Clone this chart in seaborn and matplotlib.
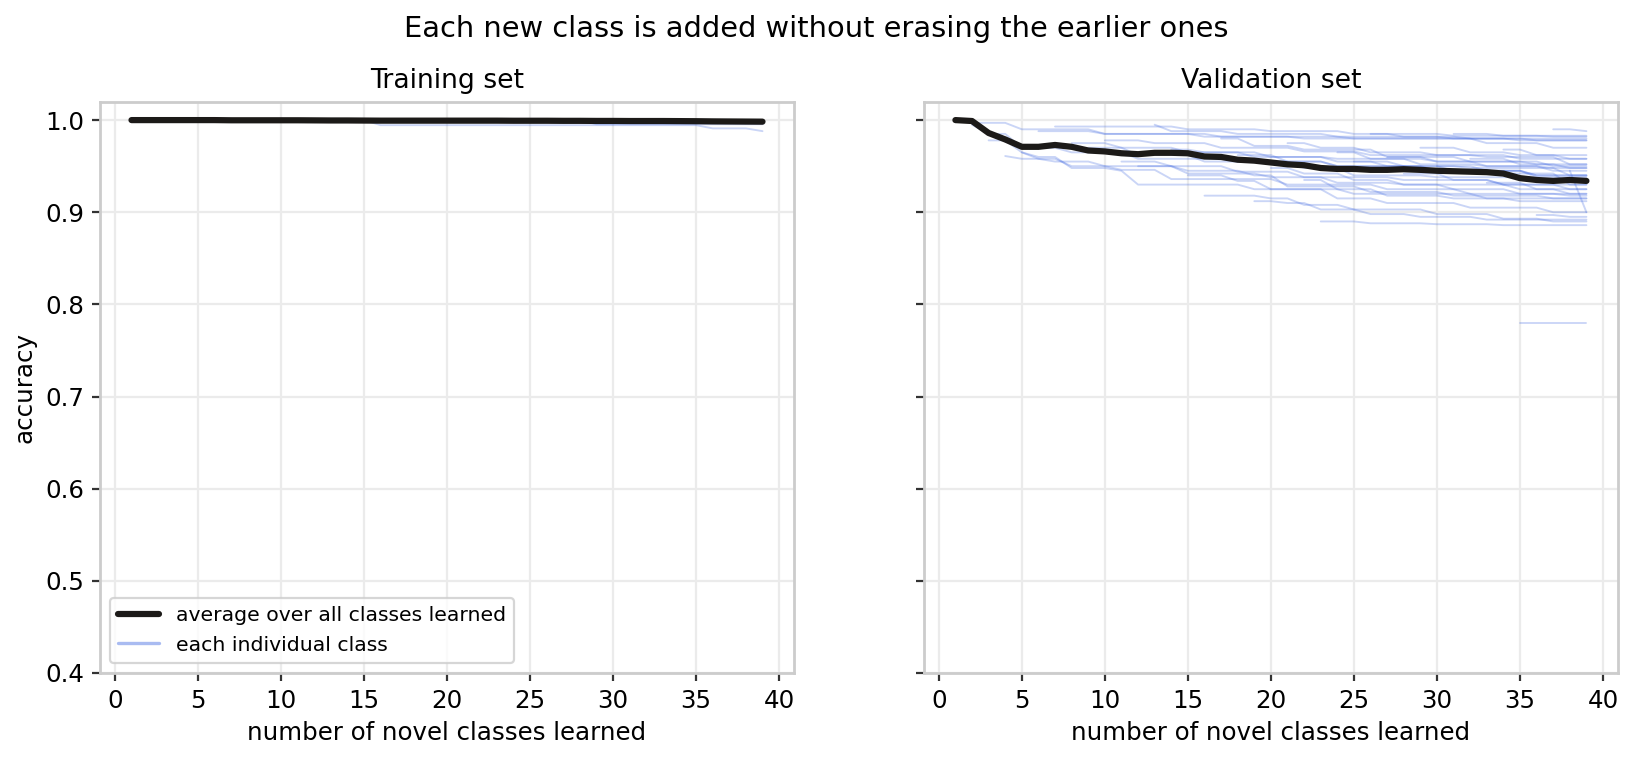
import matplotlib
matplotlib.use("Agg")
import matplotlib.pyplot as plt
import seaborn as sns
import pandas as pd
import numpy as np
from matplotlib.lines import Line2D

# number of novel classes learned so far
n_learned = list(range(1, 40))

# average accuracy over all classes learned, per step
train_avg = [1.0, 1.0, 1.0, 1.0, 1.0, 1.0, 0.9998, 0.9998, 0.9998, 0.9998,
             0.9998, 0.9997, 0.9996, 0.9996, 0.9995, 0.9994, 0.9994, 0.9994, 0.9994, 0.9994,
             0.9994, 0.9994, 0.9994, 0.9993, 0.9993, 0.9993, 0.9992, 0.9992, 0.9991, 0.9991,
             0.9990, 0.9990, 0.9990, 0.9989, 0.9988, 0.9986, 0.9985, 0.9984, 0.9983]
val_avg = [1.0, 0.999, 0.986, 0.979, 0.971, 0.971, 0.973, 0.971, 0.967, 0.966,
           0.964, 0.963, 0.9645, 0.9645, 0.964, 0.9605, 0.960, 0.957, 0.956, 0.954,
           0.952, 0.951, 0.948, 0.947, 0.947, 0.946, 0.946, 0.9467, 0.946, 0.945,
           0.9445, 0.944, 0.9435, 0.942, 0.937, 0.935, 0.934, 0.935, 0.934]

# per-class accuracy: (step where this level begins, accuracy)
train_levels = {
    1: [(1, 1.0)], 2: [(2, 1.0)], 3: [(3, 1.0), (16, 0.9945), (36, 0.991), (39, 0.988)],
    4: [(4, 1.0)], 5: [(5, 1.0)], 6: [(6, 1.0)], 7: [(7, 1.0)], 8: [(8, 1.0)],
    9: [(9, 1.0)], 10: [(10, 1.0)], 11: [(11, 1.0), (29, 0.9955)], 12: [(12, 1.0)],
    13: [(13, 1.0)], 14: [(14, 1.0)], 15: [(15, 1.0)], 16: [(16, 1.0)], 17: [(17, 1.0)],
    18: [(18, 1.0)], 19: [(19, 1.0)], 20: [(20, 1.0)], 21: [(21, 1.0)], 22: [(22, 1.0)],
    23: [(23, 1.0)], 24: [(24, 1.0)], 25: [(25, 1.0)], 26: [(26, 1.0)], 27: [(27, 1.0)],
    28: [(28, 1.0)], 29: [(29, 1.0)], 30: [(30, 1.0)], 31: [(31, 1.0)], 32: [(32, 1.0)],
    33: [(33, 1.0)], 34: [(34, 1.0)], 35: [(35, 1.0)], 36: [(36, 1.0)], 37: [(37, 1.0)],
    38: [(38, 1.0)], 39: [(39, 1.0)],
}
val_levels = {
    1: [(1, 1.0), (2, 0.997), (5, 0.990), (10, 0.985), (17, 0.982), (25, 0.980), (33, 0.975), (37, 0.970)],
    2: [(2, 0.995), (3, 0.985), (5, 0.970), (8, 0.965), (12, 0.958), (18, 0.955), (24, 0.950), (30, 0.945), (36, 0.940)],
    3: [(3, 0.978), (5, 0.965), (6, 0.960), (8, 0.948), (11, 0.945), (12, 0.930), (19, 0.925), (25, 0.920), (33, 0.915)],
    4: [(4, 0.961), (5, 0.958), (7, 0.955), (10, 0.950), (15, 0.942), (20, 0.938), (24, 0.932), (28, 0.930), (35, 0.925)],
    5: [(5, 0.965), (6, 0.958), (8, 0.950), (11, 0.946), (14, 0.936), (21, 0.930), (27, 0.925), (32, 0.920), (38, 0.918)],
    6: [(6, 0.988), (10, 0.985), (16, 0.982), (22, 0.980), (35, 0.978)],
    7: [(7, 0.993), (15, 0.990), (20, 0.988), (25, 0.985), (31, 0.983)],
    8: [(8, 0.975), (11, 0.970), (15, 0.965), (19, 0.960), (24, 0.958), (30, 0.955), (37, 0.950)],
    9: [(9, 0.970), (12, 0.962), (16, 0.955), (22, 0.948), (25, 0.940), (30, 0.938), (36, 0.935)],
    10: [(10, 0.978), (13, 0.975), (17, 0.970), (22, 0.966), (26, 0.962), (33, 0.960), (38, 0.952)],
    11: [(11, 0.955), (14, 0.950), (18, 0.944), (22, 0.938), (28, 0.935), (34, 0.930)],
    12: [(12, 0.950), (15, 0.945), (19, 0.940), (21, 0.928), (26, 0.922), (31, 0.918), (37, 0.915)],
    13: [(13, 0.995), (14, 0.988), (18, 0.985), (24, 0.982), (31, 0.980)],
    14: [(14, 0.968), (16, 0.965), (20, 0.960), (24, 0.955), (27, 0.950), (32, 0.948), (38, 0.940)],
    15: [(15, 0.940), (18, 0.934), (20, 0.925), (24, 0.915), (27, 0.910), (32, 0.905), (37, 0.900)],
    16: [(16, 0.918), (20, 0.915), (22, 0.908), (25, 0.903), (30, 0.898), (34, 0.893), (37, 0.890)],
    17: [(17, 0.980), (19, 0.972), (22, 0.968), (27, 0.960), (32, 0.955), (36, 0.952)],
    18: [(18, 0.962), (21, 0.955), (24, 0.950), (29, 0.946), (34, 0.942), (38, 0.930)],
    19: [(19, 0.912), (21, 0.910), (23, 0.903), (26, 0.898), (29, 0.895), (33, 0.892)],
    20: [(20, 0.948), (22, 0.942), (25, 0.935), (28, 0.930), (31, 0.925), (35, 0.920)],
    21: [(21, 0.975), (23, 0.970), (26, 0.965), (30, 0.962), (35, 0.958)],
    22: [(22, 0.935), (24, 0.925), (27, 0.918), (31, 0.915), (35, 0.912)],
    23: [(23, 0.890), (26, 0.888), (30, 0.887), (34, 0.886)],
    24: [(24, 0.965), (26, 0.958), (29, 0.952), (33, 0.950), (37, 0.945)],
    25: [(25, 0.955), (28, 0.950), (31, 0.945), (36, 0.940)],
    26: [(26, 0.985), (28, 0.982), (32, 0.980), (36, 0.978)],
    27: [(27, 0.960), (30, 0.955), (33, 0.950), (37, 0.948)],
    28: [(28, 0.942), (31, 0.935), (34, 0.930), (38, 0.925)],
    29: [(29, 0.970), (32, 0.965), (35, 0.962)],
    30: [(30, 0.950), (33, 0.945), (36, 0.938)],
    31: [(31, 0.985), (34, 0.983), (37, 0.982)],
    32: [(32, 0.958), (35, 0.952), (38, 0.948)],
    33: [(33, 0.932), (36, 0.925), (38, 0.920)],
    34: [(34, 0.968), (36, 0.962), (38, 0.958)],
    35: [(35, 0.780)],
    36: [(36, 0.897), (38, 0.895)],
    37: [(37, 0.990), (39, 0.988)],
    38: [(38, 0.945), (39, 0.900)],
    39: [(39, 0.960)],
}


def to_long(levels):
    # one row per (class, step); each class keeps its accuracy until the next level
    rows = []
    for cls, lv in levels.items():
        for step in range(lv[0][0], n_learned[-1] + 1):
            acc = [a for s, a in lv if s <= step][-1]
            rows.append({'class': cls, 'step': step, 'accuracy': acc})
    return pd.DataFrame(rows)


train_df = to_long(train_levels)
val_df = to_long(val_levels)

sns.set_theme(context='notebook', style='whitegrid', rc={
    'xtick.bottom': True, 'ytick.left': True,
    'xtick.major.size': 3.5, 'ytick.major.size': 3.5,
    'xtick.major.width': 1.0, 'ytick.major.width': 1.0,
    'xtick.color': '.2', 'ytick.color': '.2',
    'xtick.labelcolor': 'black', 'ytick.labelcolor': 'black',
    'text.color': 'black', 'axes.labelcolor': 'black',
    'grid.color': '.92', 'axes.edgecolor': '.8',
})

fig, axes = plt.subplots(1, 2, figsize=(1633 / 160, 757 / 160), dpi=160, sharey=True)
plt.subplots_adjust(left=0.0612, right=0.9908, top=0.8657, bottom=0.111, wspace=0.187)

line_color = 'royalblue'
avg_color = '#1c1a18'

for ax, df, avg, title in [(axes[0], train_df, train_avg, 'Training set'),
                           (axes[1], val_df, val_avg, 'Validation set')]:
    sns.lineplot(data=df, x='step', y='accuracy', units='class', estimator=None,
                 color=line_color, alpha=0.28, lw=0.85, ax=ax, legend=False)
    sns.lineplot(x=n_learned, y=avg, color=avg_color, lw=2.8, ax=ax, legend=False)
    ax.set_title(title, fontsize=12)
    ax.set_xlabel('number of novel classes learned', fontsize=11)
    ax.set_ylabel('accuracy', fontsize=11)
    ax.set_xticks(range(0, 41, 5))

axes[1].set_ylabel('')
axes[0].set_ylim(0.4, 1.02)
axes[0].set_yticks(np.arange(0.4, 1.01, 0.1))

handles = [Line2D([], [], color=avg_color, lw=2.8),
           Line2D([], [], color=line_color, alpha=0.45, lw=1.5)]
axes[0].legend(handles, ['average over all classes learned', 'each individual class'],
               loc='lower left', fontsize=9.2)

fig.suptitle('Each new class is added without erasing the earlier ones', fontsize=13)

fig.savefig('out.png', dpi=160)
